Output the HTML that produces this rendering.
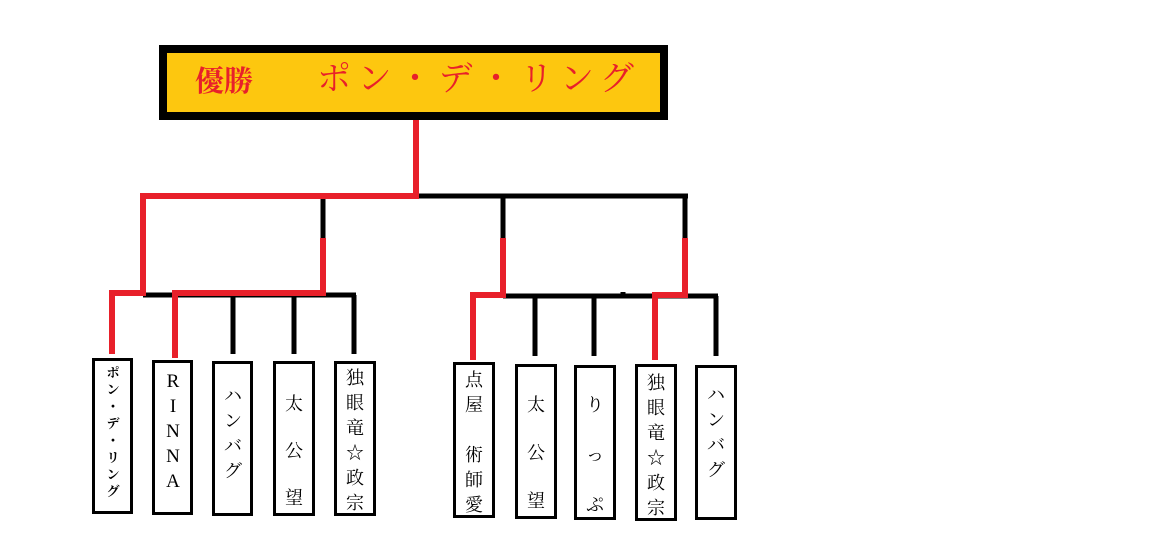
<!DOCTYPE html>
<html><head><meta charset="utf-8"><style>
body{margin:0;width:1163px;height:559px;background:#fff;position:relative;overflow:hidden;font-family:"Liberation Serif","Noto Serif CJK SC",serif;}
.b{position:absolute;border:3px solid #000;box-sizing:border-box;background:#fff;}
.c{position:absolute;width:40px;text-align:center;font-size:17px;line-height:20px;color:#000;}
#top{position:absolute;left:159px;top:45px;width:509px;height:75px;box-sizing:border-box;border:8px solid #000;background:#FDC70F;}
.t{position:absolute;color:#E8202A;white-space:nowrap;}
</style></head><body>
<div id="top"></div>
<div class="t" style="left:195px;top:64px;font-size:29px;line-height:36px;font-weight:bold;">優勝</div>
<div class="t" style="left:317px;top:59px;font-size:34px;line-height:42px;letter-spacing:6.5px;">ポン・デ・リング</div>
<svg width="1163" height="559" style="position:absolute;left:0;top:0" stroke-linecap="butt">
<g stroke="#000" stroke-width="5" fill="none">
<line x1="416" y1="196" x2="688" y2="196"/>
<line x1="143" y1="295" x2="356" y2="295"/>
<line x1="323" y1="198" x2="323" y2="240"/>
<line x1="233" y1="295" x2="233" y2="354"/>
<line x1="294" y1="295" x2="294" y2="354"/>
<line x1="354" y1="295" x2="354" y2="354"/>
<line x1="503" y1="196" x2="503" y2="240"/>
<line x1="685" y1="196" x2="685" y2="240"/>
<line x1="503" y1="296" x2="718" y2="296"/>
<line x1="535" y1="296" x2="535" y2="356"/>
<line x1="594" y1="296" x2="594" y2="356"/>
<line x1="716" y1="296" x2="716" y2="356"/>
<line x1="623" y1="292" x2="623" y2="298"/>
</g>
<g stroke="#E8202A" stroke-width="6" fill="none">
<line x1="416" y1="120" x2="416" y2="199"/>
<polyline points="416,196 143,196 143,293 112,293 112,354"/>
<polyline points="323,238 323,293 175,293 175,358"/>
<polyline points="503,238 503,295 473,295 473,360"/>
<polyline points="685,238 685,295 655,295 655,360"/>
</g>
</svg>
<div class="b" style="left:92px;top:358px;width:41px;height:156px"></div>
<div class="b" style="left:152px;top:360px;width:41px;height:155px"></div>
<div class="b" style="left:212px;top:361px;width:41px;height:155px"></div>
<div class="b" style="left:273px;top:361px;width:42px;height:155px"></div>
<div class="b" style="left:334px;top:361px;width:42px;height:155px"></div>
<div class="b" style="left:453px;top:362px;width:42px;height:156px"></div>
<div class="b" style="left:515px;top:364px;width:42px;height:155px"></div>
<div class="b" style="left:574px;top:365px;width:42px;height:155px"></div>
<div class="b" style="left:635px;top:364px;width:42px;height:157px"></div>
<div class="b" style="left:695px;top:365px;width:42px;height:155px"></div>

<div class="c" style="left:93px;top:364px;font-size:13px;line-height:17px;font-weight:bold;">ポ<br>ン<br>・<br>デ<br>・<br>リ<br>ン<br>グ</div>
<div class="c" style="left:153px;top:369px;font-size:19px;line-height:25px;">R<br>I<br>N<br>N<br>A</div>
<div class="c" style="left:213px;top:384px;font-size:18px;line-height:25px;">ハ<br>ン<br>バ<br>グ</div>
<div class="c" style="left:274px;top:381px;font-size:18px;line-height:47px;">太<br>公<br>望</div>
<div class="c" style="left:335px;top:366px;font-size:18px;line-height:25px;">独<br>眼<br>竜<br>☆<br>政<br>宗</div>
<div class="c" style="left:454px;top:368px;font-size:18px;line-height:25px;">点<br>屋<br>&nbsp;<br>術<br>師<br>愛</div>
<div class="c" style="left:516px;top:381px;font-size:18px;line-height:48px;">太<br>公<br>望</div>
<div class="c" style="left:575px;top:380px;font-size:18px;line-height:50px;">り<br>っ<br>ぷ</div>
<div class="c" style="left:636px;top:371px;font-size:18px;line-height:25px;">独<br>眼<br>竜<br>☆<br>政<br>宗</div>
<div class="c" style="left:696px;top:383px;font-size:18px;line-height:25px;">ハ<br>ン<br>バ<br>グ</div>
</body></html>
